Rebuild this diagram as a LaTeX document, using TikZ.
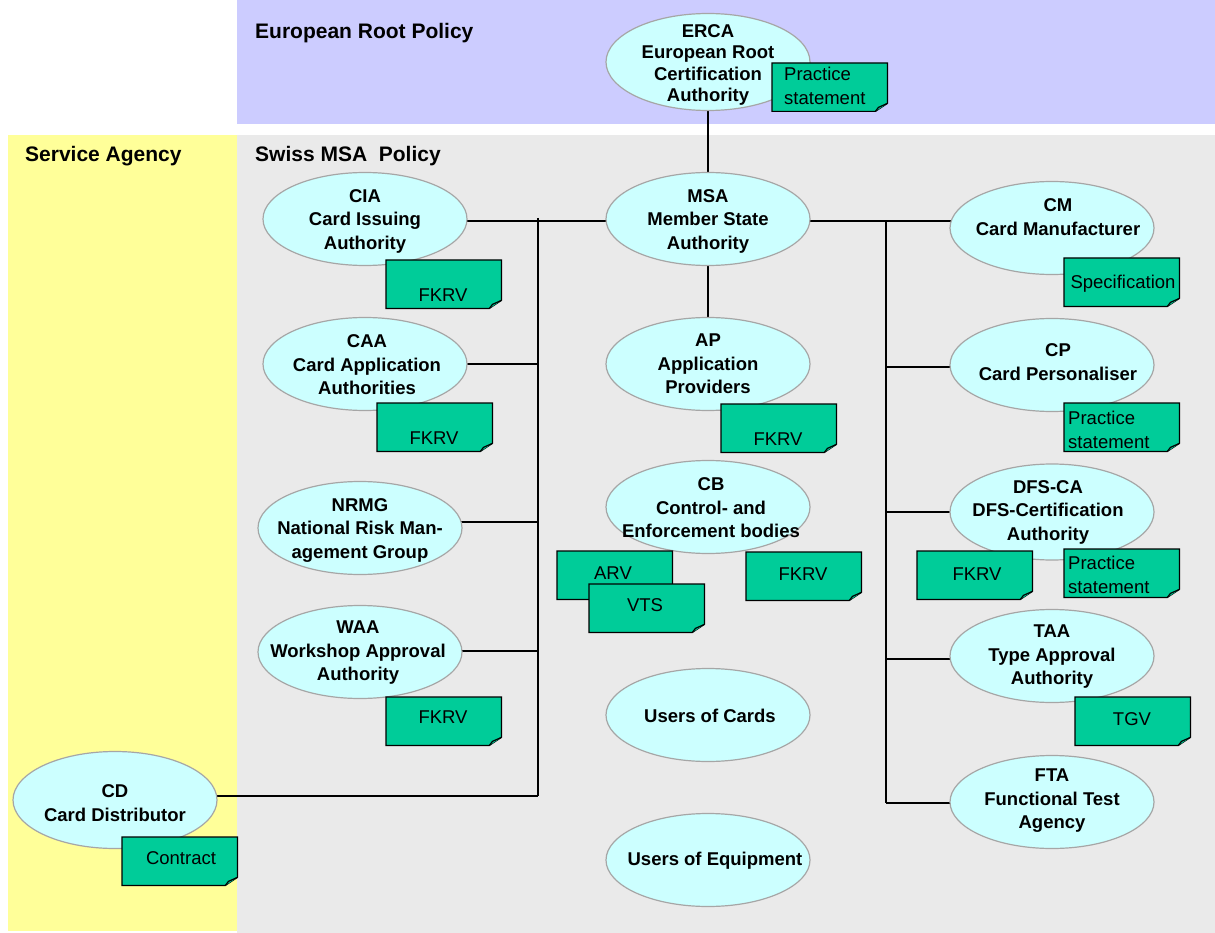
\documentclass[tikz,border=0pt]{standalone}
\usepackage{fontspec}
\setmainfont{Liberation Sans}
\usetikzlibrary{shapes.geometric,calc}
\pgfdeclarelayer{panel}
\pgfdeclarelayer{wires}
\pgfsetlayers{panel,wires,main}
\definecolor{rootbg}{HTML}{CCCCFF}
\definecolor{msabg}{HTML}{EAEAEA}
\definecolor{agencybg}{HTML}{FFFF99}
\definecolor{ellfill}{HTML}{CCFFFF}
\definecolor{ellline}{HTML}{A6A6A6}
\definecolor{notegreen}{HTML}{00CC99}
\newcommand\notebox[5]{%
  \node[notebase] (#1) at (#2) {};
  \draw[notefill] (#1.north west) -- (#1.north east) -- ([yshift=8pt]#1.south east) -- ([xshift=-12pt]#1.south east) -- (#1.south west) -- cycle;
  \draw[notefill] ([yshift=8pt]#1.south east) -- ([xshift=-9pt,yshift=4pt]#1.south east) -- ([xshift=-12pt]#1.south east);
  \node[notetxt, anchor=#4] (#1-t) at (#3) {#5};
}
\begin{document}
\begin{tikzpicture}[x=1pt,y=-1pt,
  ell/.style={ellipse, draw=ellline, fill=ellfill, line width=1.2pt, minimum width=204pt, minimum height=93pt, inner sep=0pt},
  lbl/.style={align=center, font=\bfseries\fontsize{18.5}{23.5}\selectfont, inner sep=0pt},
  ttl/.style={anchor=west, font=\bfseries\fontsize{21}{24}\selectfont, inner sep=0pt},
  notebase/.style={anchor=north west, minimum width=115pt, minimum height=48pt, inner sep=0pt},
  notefill/.style={fill=notegreen, draw=black, line width=1.2pt, line join=miter},
  notetxt/.style={font=\fontsize{18.5}{23.5}\selectfont, align=left, inner sep=0pt},
  wire/.style={draw=black, line width=1.3pt}]
\useasboundingbox (0,0) rectangle (1215,933);
\begin{pgfonlayer}{panel}
  \fill[rootbg] (237,0) rectangle (1215,124);
  \fill[msabg] (237,135) rectangle (1215,933);
  \fill[agencybg] (8,135) rectangle (237,931);
\end{pgfonlayer}
% titles
\node[ttl] (t-root) at (255,33) {European Root Policy};
\node[ttl] (t-agency) at (25,156) {Service Agency};
\node[ttl] (t-msa) at (255,156) {Swiss MSA\ \ Policy};
% ellipses
\node[ell, minimum height=97pt] (erca) at (708,62) {};
\node[ell] (msa) at (708,219) {};
\node[ell] (cia) at (365,219) {};
\node[ell] (caa) at (365,364) {};
\node[ell] (nrmg) at (360,528) {};
\node[ell] (waa) at (360,652) {};
\node[ell, minimum height=97pt] (cd) at (115,800) {};
\node[ell] (ap) at (708,364) {};
\node[ell] (cb) at (708,507) {};
\node[ell] (uc) at (708,715) {};
\node[ell] (ue) at (708,860) {};
\node[ell] (cm) at (1052,228) {};
\node[ell] (cp) at (1052,365) {};
\node[ell, minimum height=96pt] (dfs) at (1052,512) {};
\node[ell] (taa) at (1052,656) {};
\node[ell] (fta) at (1052,802) {};
% labels
\node[lbl, font=\bfseries\fontsize{18.5}{21.3}\selectfont] (erca-t) at (708,65) {ERCA\\European Root\\Certification\\Authority};
\node[lbl] (msa-t) at (708,221) {MSA\\Member State\\Authority};
\node[lbl] (cia-t) at (365,221) {CIA\\Card Issuing\\Authority};
\node[lbl] (caa-t) at (367,365) {CAA\\Card Application\\Authorities};
\node[lbl] (nrmg-t) at (360,530) {NRMG\\National Risk Man-\\agement Group};
\node[lbl] (waa-t) at (358,653) {WAA\\Workshop Approval\\Authority};
\node[lbl] (cd-t) at (115,803) {CD\\Card Distributor};
\node[lbl] (ap-t) at (708,364) {AP\\Application\\Providers};
\node[lbl] (cb-t) at (711,508) {CB\\Control- and\\Enforcement bodies};
\node[lbl] (uc-t) at (710,716) {Users of Cards};
\node[lbl] (ue-t) at (715,861) {Users of Equipment};
\node[lbl] (cm-t) at (1058,217) {CM\\Card Manufacturer};
\node[lbl] (cp-t) at (1058,362) {CP\\Card Personaliser};
\node[lbl] (dfs-t) at (1048,512) {DFS-CA\\DFS-Certification\\Authority};
\node[lbl] (taa-t) at (1052,657) {TAA\\Type Approval\\Authority};
\node[lbl] (fta-t) at (1052,801) {FTA\\Functional Test\\Agency};
% connectors
\coordinate (lbtop) at (538,218);
\coordinate (lbbot) at (538,796);
\coordinate (rbtop) at (886,221);
\coordinate (rbbot) at (886,803);
\coordinate (jl) at (538,221);
\begin{pgfonlayer}{wires}
  \draw[wire] (erca) -- (msa);
  \draw[wire] (msa) -- (ap);
  \draw[wire] (cia.center |- jl) -- (msa.center |- jl);
  \draw[wire] (msa.center |- rbtop) -- (cm.center |- rbtop);
  \draw[wire] (lbtop) -- (lbbot);
  \draw[wire] (rbtop) -- (rbbot);
  \draw[wire] (lbtop |- caa.center) -- (caa.center);
  \draw[wire] (538,522) -- (nrmg.center |- 0,522);
  \draw[wire] (538,651) -- (waa.center |- 0,651);
  \draw[wire] (lbbot) -- (cd.center |- lbbot);
  \draw[wire] (886,367) -- (cp.center |- 0,367);
  \draw[wire] (rbtop |- dfs.center) -- (dfs.center);
  \draw[wire] (886,659) -- (taa.center |- 0,659);
  \draw[wire] (rbbot) -- (fta.center |- rbbot);
\end{pgfonlayer}
% notes
\notebox{n-erca}{772,63}{784,86}{west}{Practice\\statement}
\notebox{n-cia}{386,260}{443,295}{center}{FKRV}
\notebox{n-caa}{377,403}{434,438}{center}{FKRV}
\notebox{n-ap}{721,404}{778,439}{center}{FKRV}
\notebox{n-arv}{557,551}{613,573}{center}{ARV}
\notebox{n-vts}{589,584}{645,605}{center}{VTS}
\notebox{n-cb}{746,552}{803,574}{center}{FKRV}
\notebox{n-cm}{1064,258}{1123,284}{center}{Specification}
\notebox{n-cp}{1064,403}{1068,430}{west}{Practice\\statement}
\notebox{n-dfs1}{917,551}{977,574}{center}{FKRV}
\notebox{n-dfs2}{1064,549}{1068,575}{west}{Practice\\statement}
\notebox{n-taa}{1075,697}{1132,719}{center}{TGV}
\notebox{n-waa}{386,697}{443,717}{center}{FKRV}
\notebox{n-cd}{122,837}{181,858}{center}{Contract}
\end{tikzpicture}
\end{document}
